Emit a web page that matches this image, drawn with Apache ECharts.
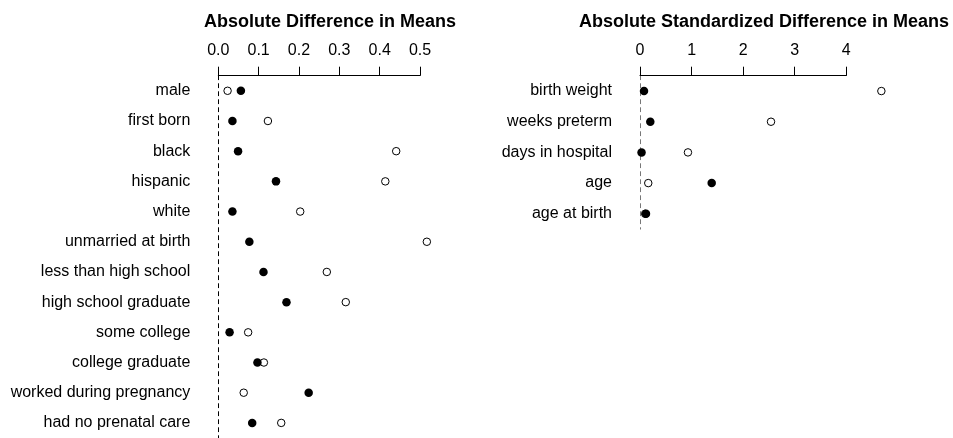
<!DOCTYPE html>
<html>
<head>
<meta charset="utf-8">
<script src="https://cdn.jsdelivr.net/npm/echarts@6/dist/echarts.min.js"></script>
<style>html,body{margin:0;padding:0;background:#fff;}#c{width:953px;height:438px;}</style>
</head>
<body>
<div id="c"></div>
<script>
// Left panel: absolute difference in means
const leftCats = ["male","first born","black","hispanic","white","unmarried at birth","less than high school","high school graduate","some college","college graduate","worked during pregnancy","had no prenatal care"];
const leftOpen   = [0.023,0.123,0.441,0.414,0.203,0.517,0.269,0.316,0.074,0.113,0.063,0.156];
const leftFilled = [0.056,0.035,0.049,0.143,0.035,0.077,0.112,0.169,0.028,0.097,0.224,0.084];
const leftTicks = [0.0,0.1,0.2,0.3,0.4,0.5];

// Right panel: absolute standardized difference in means
const rightCats = ["birth weight","weeks preterm","days in hospital","age","age at birth"];
const rightOpen   = [4.68,2.54,0.93,0.16,0.10];
const rightFilled = [0.078,0.20,0.03,1.39,0.116];
const rightTicks = [0,1,2,3,4];

const FONT = "'Liberation Sans', Arial, Helvetica, sans-serif";
const chart = echarts.init(document.getElementById('c'), null, {renderer:'canvas'});
const ROW_H = 30.68;
const GRID_TOP = 75.7;

function xAxisFor(gi, ticks, fmt){
  return {
    gridIndex: gi, type:'value', position:'top',
    min: ticks[0], max: ticks[ticks.length-1], interval: ticks[1]-ticks[0],
    axisLine:{show:true, lineStyle:{color:'#000', width:1}},
    axisTick:{show:true, length:9, lineStyle:{color:'#000', width:1}},
    axisLabel:{show:true, color:'#000', fontSize:16, fontFamily:FONT, margin:17, formatter:fmt},
    splitLine:{show:false}
  };
}
function yAxisFor(gi, cats, col){
  return {
    gridIndex: gi, type:'category', data: cats, inverse:true, boundaryGap:true,
    axisLine:{show:true, lineStyle:{color:col, width:1, type:[4,4]}},
    axisTick:{show:false},
    axisLabel:{show:true, color:'#000', fontSize:16, fontFamily:FONT, margin:28, padding:[2,0,0,0]},
    splitLine:{show:false}
  };
}
function sc(xi, vals, cats, filled){
  return {
    type:'scatter', xAxisIndex:xi, yAxisIndex:xi, clip:false,
    symbol:'circle', symbolSize: filled?8.5:7.5,
    itemStyle: filled ? {color:'#000', borderColor:'#000', borderWidth:0, opacity:1}
                      : {color:'#fff', borderColor:'#000', borderWidth:1, opacity:1},
    data: vals.map((v,i)=>[v, cats[i]]),
    z: filled?3:2
  };
}

chart.setOption({
  animation:false,
  backgroundColor:'#fff',
  title:[
    {text:'Absolute Difference in Means', left:325, top:8, textAlign:'center',
     textStyle:{fontSize:18, fontWeight:'bold', color:'#000', fontFamily:FONT}},
    {text:'Absolute Standardized Difference in Means', left:759, top:8, textAlign:'center',
     textStyle:{fontSize:18, fontWeight:'bold', color:'#000', fontFamily:FONT}}
  ],
  grid:[
    {left:218.3, top:GRID_TOP, width:201.7, height:ROW_H*leftCats.length},
    {left:640, top:GRID_TOP, width:206.3, height:ROW_H*rightCats.length}
  ],
  xAxis:[
    xAxisFor(0, leftTicks, v=>v.toFixed(1)),
    xAxisFor(1, rightTicks, v=>String(v))
  ],
  yAxis:[
    yAxisFor(0, leftCats, '#000'),
    yAxisFor(1, rightCats, '#777')
  ],
  series:[
    sc(0, leftOpen, leftCats, false),
    sc(0, leftFilled, leftCats, true),
    sc(1, rightOpen, rightCats, false),
    sc(1, rightFilled, rightCats, true)
  ]
});
</script>
</body>
</html>
